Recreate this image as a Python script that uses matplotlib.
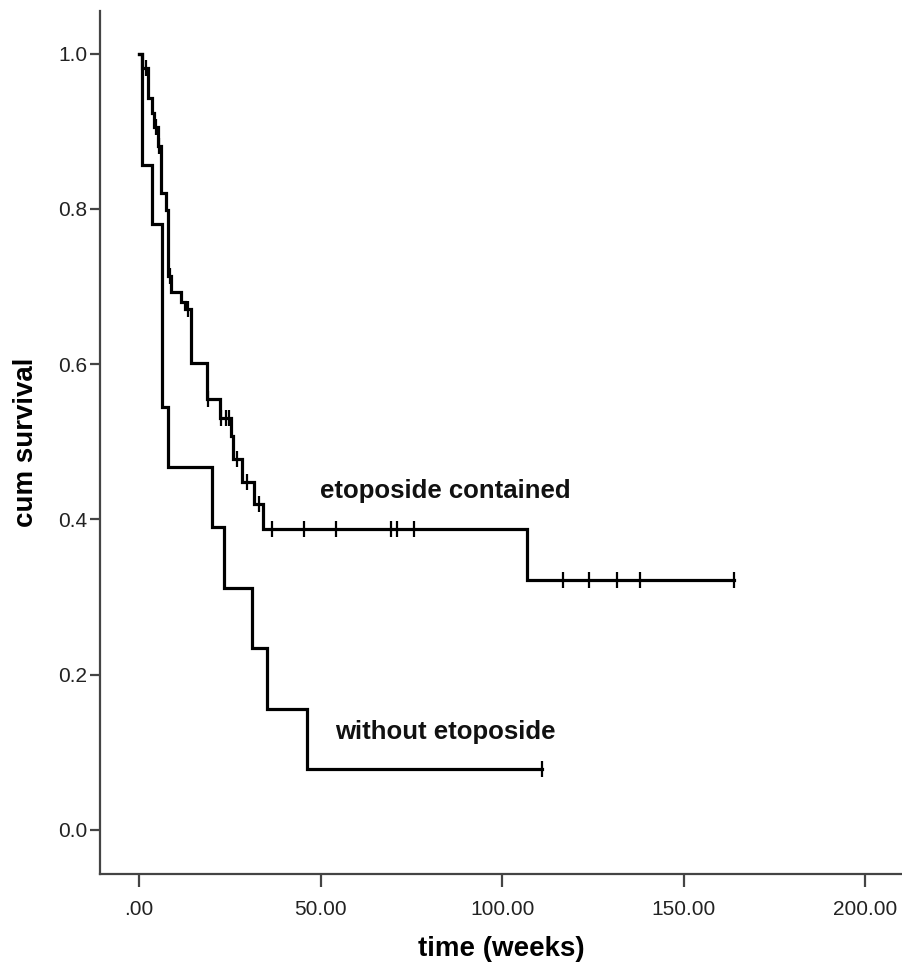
import numpy as np
import matplotlib
matplotlib.use("Agg")
import matplotlib.pyplot as plt

plt.rcParams['font.family'] = ['Liberation Sans', 'DejaVu Sans']

# Kaplan-Meier step data (time in weeks, cumulative survival)
etop_times = [0, 0.8, 2.5, 3.5, 4.1, 5.2, 5.9, 7.3, 8.0, 8.9, 11.6, 12.7, 14.3,
              18.8, 22.3, 25.4, 25.9, 28.4, 31.7, 34.2, 106.7, 163.8]
etop_surv = [1.0, 0.982, 0.943, 0.924, 0.905, 0.881, 0.821, 0.799, 0.714, 0.693,
             0.680, 0.671, 0.602, 0.555, 0.531, 0.508, 0.478, 0.448, 0.420, 0.388,
             0.322, 0.322]
etop_censor = [1.9, 4.7, 5.5, 8.6, 13.5, 19.0, 22.6, 24.0, 24.8, 27.0, 29.8, 33.1,
               36.7, 45.5, 54.1, 69.5, 70.9, 75.8, 116.7, 123.8, 131.5, 137.9, 163.8]

noetop_times = [0, 0.8, 3.6, 6.3, 8.0, 20.1, 23.4, 31.2, 35.3, 46.3, 110.9]
noetop_surv = [1.0, 0.857, 0.78, 0.545, 0.468, 0.39, 0.312, 0.234, 0.155, 0.078, 0.078]
noetop_censor = [110.9]

x_ticks = [0, 50, 100, 150, 200]
x_ticklabels = ['.00', '50.00', '100.00', '150.00', '200.00']
y_ticks = [0.0, 0.2, 0.4, 0.6, 0.8, 1.0]
y_ticklabels = ['0.0', '0.2', '0.4', '0.6', '0.8', '1.0']


def level_at(times, surv, t):
    idx = np.searchsorted(np.asarray(times), t, side='right') - 1
    return np.asarray(surv)[idx]


fig = plt.figure(figsize=(9.03, 9.67), dpi=100)
ax = fig.add_axes([0.1107, 0.0962, 0.8893, 0.8924])

for times, surv, cens in [(etop_times, etop_surv, etop_censor),
                          (noetop_times, noetop_surv, noetop_censor)]:
    ax.step(times, surv, where='post', color='black', lw=2.3, solid_joinstyle='miter')
    cv = [level_at(times, surv, c) for c in cens]
    ax.plot(cens, cv, linestyle='none', marker='|', markersize=11,
            markeredgewidth=1.6, color='black')

ax.text(84.4, 0.436, 'etoposide contained', fontsize=18.5, fontweight='bold',
        ha='center', va='center', color='#111111')
ax.text(84.4, 0.126, 'without etoposide', fontsize=18.5, fontweight='bold',
        ha='center', va='center', color='#111111')

ax.set_xlim(-10.8, 210.4)
ax.set_ylim(-0.057, 1.055)
ax.set_xticks(x_ticks)
ax.set_xticklabels(x_ticklabels)
ax.set_yticks(y_ticks)
ax.set_yticklabels(y_ticklabels)

for s in ['top', 'right']:
    ax.spines[s].set_visible(False)
for s in ['left', 'bottom']:
    ax.spines[s].set_color('#444444')
    ax.spines[s].set_linewidth(1.6)

ax.tick_params(axis='x', length=9, width=1.6, color='#444444', labelsize=15,
               pad=10, labelcolor='#222222')
ax.tick_params(axis='y', length=7, width=1.6, color='#444444', labelsize=15,
               pad=2, labelcolor='#222222')

ax.set_xlabel('time (weeks)', fontsize=20, fontweight='bold', labelpad=12)
ax.set_ylabel('cum survival', fontsize=20, fontweight='bold', labelpad=14)

fig.savefig('out.png', dpi=100)
